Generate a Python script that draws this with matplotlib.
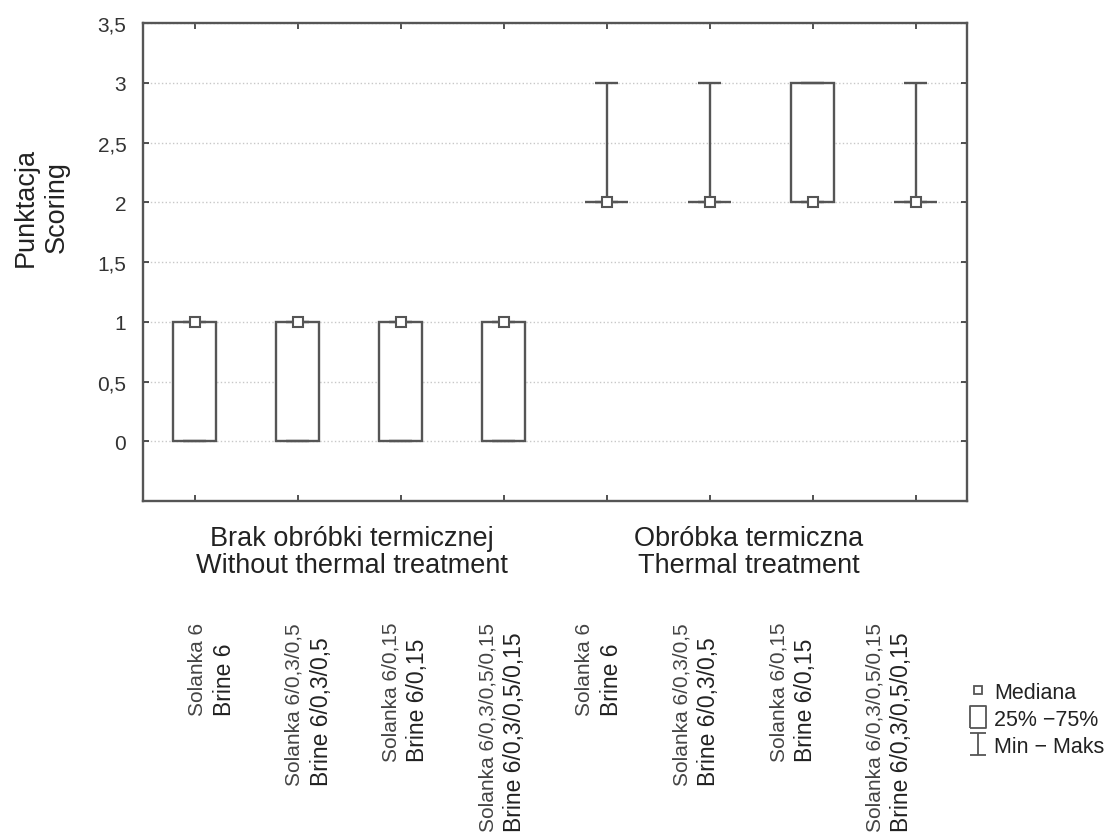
import numpy as np
import matplotlib
matplotlib.use("Agg")
import matplotlib.pyplot as plt
from matplotlib.lines import Line2D
from matplotlib.path import Path

plt.rcParams["font.family"] = ["Liberation Sans", "DejaVu Sans"]

# data (scores 0-3)
solanka_labels = ["Solanka 6", "Solanka 6/0,3/0,5", "Solanka 6/0,15", "Solanka 6/0,3/0,5/0,15"] * 2
brine_labels = ["Brine 6", "Brine 6/0,3/0,5", "Brine 6/0,15", "Brine 6/0,3/0,5/0,15"] * 2
group_labels = ["Brak obróbki termicznej\nWithout thermal treatment",
                "Obróbka termiczna\nThermal treatment"]
medians = [1, 1, 1, 1, 2, 2, 2, 2]
q25 = [0, 0, 0, 0, 2, 2, 2, 2]
q75 = [1, 1, 1, 1, 2, 2, 3, 2]
mins = [0, 0, 0, 0, 2, 2, 2, 2]
maxs = [1, 1, 1, 1, 3, 3, 3, 3]
yticks = [0, 0.5, 1, 1.5, 2, 2.5, 3, 3.5]
ytick_labels = ["0", "0,5", "1", "1,5", "2", "2,5", "3", "3,5"]
legend_labels = ["Mediana", "25% \u221275%", "Min \u2212 Maks"]

LINE = "#555555"
TXT = "#222222"

fig = plt.figure(figsize=(11.14, 8.37), dpi=100)
ax = fig.add_axes([0.1284, 0.4002, 0.7397, 0.5711])

x = np.arange(len(medians)) + 0.5
q25 = np.array(q25)
q75 = np.array(q75)

# boxes (25-75%)
ax.bar(x, q75 - q25, bottom=q25, width=0.42, facecolor="white",
       edgecolor=LINE, linewidth=1.7, zorder=3)
# whiskers drawn outward from the box edges
ax.vlines(x, q75, maxs, color=LINE, linewidth=1.7, zorder=3)
ax.vlines(x, mins, q25, color=LINE, linewidth=1.7, zorder=3)
ax.hlines(maxs, x - 0.11, x + 0.11, color=LINE, linewidth=1.7, zorder=3)
ax.hlines(mins, x - 0.11, x + 0.11, color=LINE, linewidth=1.7, zorder=3)
# medians
ax.plot(x, medians, ls="none", marker="s", ms=7, mfc="white", mec=LINE,
        mew=1.5, zorder=4)

ax.set_xlim(0, 8)
ax.set_ylim(-0.5, 3.5)
ax.set_xticks(x)
ax.set_xticklabels([])
ax.set_yticks(yticks)
ax.set_yticklabels(ytick_labels, fontsize=15, color="#333333")
ax.tick_params(direction="in", length=4, width=1.2, color="#333333",
               top=True, right=True, pad=12)
ax.grid(axis="y", linestyle=":", color="#c8c8c8", linewidth=1.0, zorder=0)
for sp in ax.spines.values():
    sp.set_color(LINE)
    sp.set_linewidth(1.7)

ax.text(-0.124, 0.617, "Punktacja\nScoring", transform=ax.transAxes,
        rotation=90, ha="center", va="center", fontsize=19.5, color=TXT,
        linespacing=1.25)

# two-line rotated category labels: top of the pair aligned, lines start together
tr = ax.get_xaxis_transform()
for i in range(len(x)):
    cx = 0.53 + 0.94 * i
    t = ax.text(cx, -0.253, solanka_labels[i], transform=tr, rotation=90,
                ha="center", va="top", fontsize=15, color="#444444")
    ax.annotate(brine_labels[i], xy=(1, 0), xycoords=t, xytext=(4, 0),
                textcoords="offset points", rotation=90, ha="left",
                va="bottom", fontsize=16.5, color=TXT)

for gx, lab in zip([2.03, 5.88], group_labels):
    ax.text(gx, -0.105, lab, transform=tr, ha="center", va="center",
            fontsize=19.5, color=TXT, linespacing=1.05)

# legend
box_marker = Path([(-0.74, -1), (0.74, -1), (0.74, 1), (-0.74, 1), (-0.74, -1)])
whisker_marker = Path([(-0.7, 1), (0.7, 1), (0, 1), (0, -1), (-0.7, -1), (0.7, -1)],
                      [Path.MOVETO, Path.LINETO, Path.MOVETO, Path.LINETO,
                       Path.MOVETO, Path.LINETO])
handles = [
    Line2D([], [], ls="none", marker="s", ms=5.5, mfc="white", mec=LINE, mew=1.3),
    Line2D([], [], ls="none", marker=box_marker, ms=16, mfc="white", mec=LINE, mew=1.3),
    Line2D([], [], ls="none", marker=whisker_marker, ms=16, mfc="none", mec=LINE, mew=1.3),
]
fig.legend(handles, legend_labels, loc="upper left", bbox_to_anchor=(0.856, 0.202),
           frameon=False, fontsize=15.5, handlelength=0.9, handletextpad=0.3,
           labelspacing=0.27, borderpad=0.2, labelcolor=TXT)

fig.savefig("out.png", dpi=100)
